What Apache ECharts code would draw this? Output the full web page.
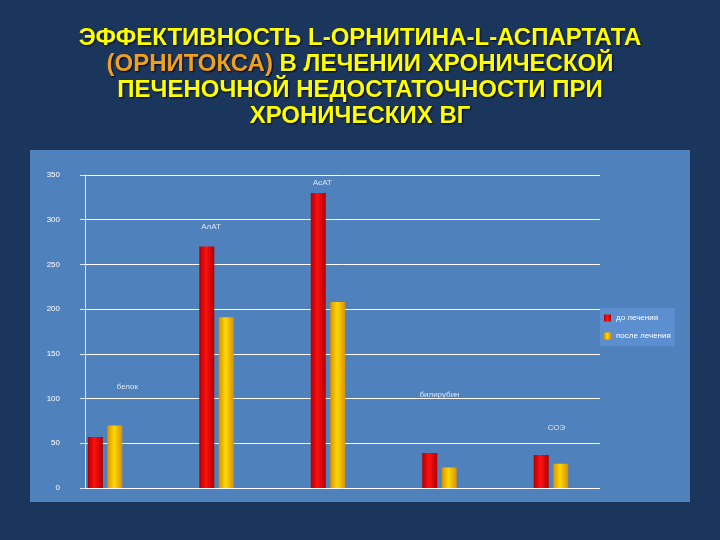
<!DOCTYPE html>
<html><head><meta charset="utf-8">
<script src="https://cdn.jsdelivr.net/npm/echarts@6/dist/echarts.min.js"></script>
<style>body{margin:0;background:#1b365d}#main{width:720px;height:540px}</style>
</head><body><div id="main"></div>
<script>
var categories = ['белок', 'АлАТ', 'АсАТ', 'билирубин', 'СОЭ'];
var before = [57, 270, 330, 39, 37];
var after = [70, 191, 208, 23, 27];
var labelY = [113, 292, 341, 104, 67];
var labelX = [1.2, 1.95, 2.95, 4.0, 5.05];
var yTicks = [0, 50, 100, 150, 200, 250, 300, 350];

var chart = echarts.init(document.getElementById('main'));
function pts(arr){ return arr.map(function(v,i){ return [i+1, v]; }); }
var barStyle = function(c1, c2){
    return {color: new echarts.graphic.LinearGradient(0,0,1,0,[{offset:0,color:c2},{offset:0.45,color:c1},{offset:1,color:c2}])};
};
chart.setOption({
    color: ['#e00000', '#ffc000'],
    backgroundColor: '#1b365d',
    title: {
        text: 'ЭФФЕКТИВНОСТЬ L-ОРНИТИНА-L-АСПАРТАТА\n{o|(ОРНИТОКСА)} В ЛЕЧЕНИИ ХРОНИЧЕСКОЙ\nПЕЧЕНОЧНОЙ НЕДОСТАТОЧНОСТИ ПРИ\nХРОНИЧЕСКИХ ВГ',
        left: 'center', top: 20,
        textStyle: {color: '#ffff00', fontFamily: 'Liberation Sans Narrow, Liberation Sans', fontWeight: 'bold', fontSize: 24, lineHeight: 26,
            textShadowColor: '#000', textShadowBlur: 2, textShadowOffsetX: 1, textShadowOffsetY: 1,
            rich: {o: {color: '#f0a020', fontFamily: 'Liberation Sans Narrow, Liberation Sans', fontWeight: 'bold', fontSize: 24}}}
    },
    graphic: [{type: 'rect', z: -1, shape: {x: 30, y: 150, width: 660, height: 352}, style: {fill: '#4f81bd'}}],
    legend: {
        data: ['до лечения', 'после лечения'], orient: 'vertical', left: 600, top: 308,
        backgroundColor: '#5b8fd0', padding: [6, 4], itemWidth: 7, itemHeight: 7, itemGap: 10, icon: 'rect',
        textStyle: {color: '#fff', fontSize: 8}
    },
    grid: {left: 85, width: 515, top: 175, height: 313},
    xAxis: {type: 'value', min: 0.82, max: 5.44, show: false},
    yAxis: {type: 'value', min: 0, max: 350, interval: 50,
        axisLine: {show: true, lineStyle: {color: '#dde8f5'}},
        axisLabel: {color: '#fff', fontSize: 8, margin: 25},
        splitLine: {lineStyle: {color: '#fff', width: 1}}},
    series: [
        {name: 'до лечения', type: 'bar', barWidth: 15, barGap: '30%', data: pts(before),
         itemStyle: barStyle('#ff1010', '#b00000')},
        {name: 'после лечения', type: 'bar', barWidth: 15, data: pts(after),
         itemStyle: barStyle('#ffd800', '#d89000')},
        {type: 'scatter', symbolSize: 0, silent: true,
         data: categories.map(function(c,i){ return {value: [labelX[i], labelY[i]], name: c}; }),
         label: {show: true, formatter: '{b}', color: '#fff', fontSize: 8, position: 'inside'}}
    ]
});
</script></body></html>
